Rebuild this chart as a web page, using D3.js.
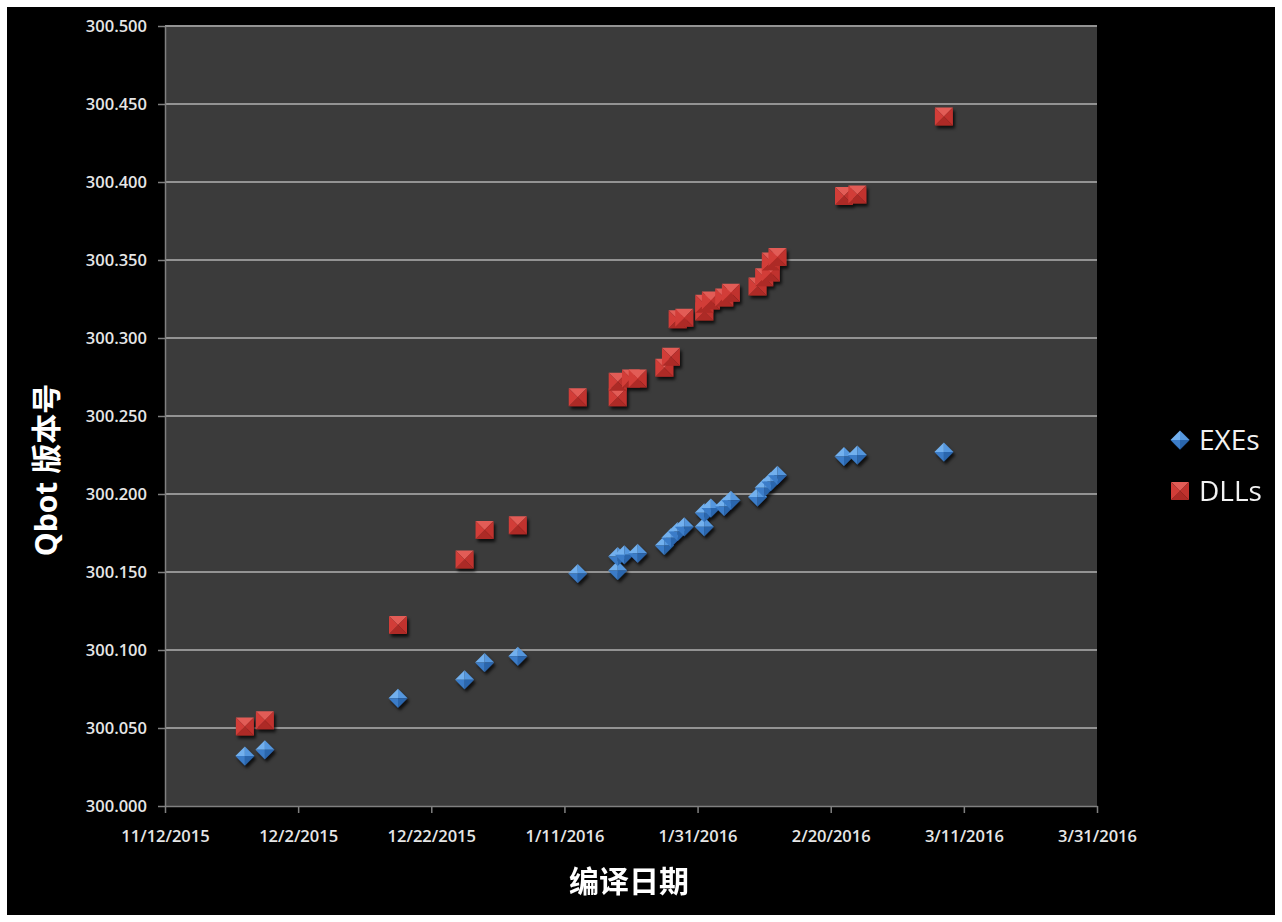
<!DOCTYPE html>
<html>
<head>
<meta charset="utf-8">
<script src="https://cdn.jsdelivr.net/npm/d3@7"></script>
<style>
  html, body { margin: 0; padding: 0; background: #ffffff; }
  svg { display: block; }
  .tick text { font-family: "Open Sans", "Noto Sans", sans-serif; font-weight: 600; font-size: 16.5px; fill: #e6e6e6; }
</style>
</head>
<body>
<svg id="chart" width="1282" height="922"></svg>
<script>
// Compile dates and Qbot version numbers for the two sample families
const exeDates = [
  "11/24/2015", "11/27/2015", "12/17/2015", "12/27/2015", "12/30/2015", "1/4/2016",
  "1/13/2016", "1/19/2016", "1/19/2016", "1/20/2016", "1/22/2016", "1/26/2016",
  "1/27/2016", "1/28/2016", "1/29/2016", "2/1/2016", "2/1/2016", "2/2/2016",
  "2/4/2016", "2/5/2016", "2/9/2016", "2/10/2016", "2/11/2016", "2/12/2016",
  "2/22/2016", "2/24/2016", "3/8/2016"
];
const exeVersions = [
  300.032, 300.036, 300.069, 300.081, 300.092, 300.096,
  300.149, 300.151, 300.160, 300.161, 300.162, 300.167,
  300.172, 300.176, 300.179, 300.179, 300.188, 300.191,
  300.192, 300.196, 300.198, 300.204, 300.208, 300.212,
  300.224, 300.225, 300.227
];
const dllDates = [
  "11/24/2015", "11/27/2015", "12/17/2015", "12/27/2015", "12/30/2015", "1/4/2016",
  "1/13/2016", "1/19/2016", "1/19/2016", "1/21/2016", "1/22/2016", "1/26/2016",
  "1/27/2016", "1/28/2016", "1/29/2016", "2/1/2016", "2/1/2016", "2/2/2016",
  "2/4/2016", "2/5/2016", "2/9/2016", "2/10/2016", "2/11/2016", "2/11/2016",
  "2/12/2016", "2/22/2016", "2/24/2016", "3/8/2016"
];
const dllVersions = [
  300.051, 300.055, 300.116, 300.158, 300.177, 300.180,
  300.262, 300.262, 300.272, 300.274, 300.274, 300.281,
  300.288, 300.312, 300.313, 300.317, 300.322, 300.324,
  300.326, 300.329, 300.333, 300.339, 300.342, 300.349,
  300.352, 300.391, 300.392, 300.442
];
const xTickLabels = ["11/12/2015", "12/2/2015", "12/22/2015", "1/11/2016", "1/31/2016", "2/20/2016", "3/11/2016", "3/31/2016"];
const yTickValues = [300.000, 300.050, 300.100, 300.150, 300.200, 300.250, 300.300, 300.350, 300.400, 300.450, 300.500];
const seriesNames = ["EXEs", "DLLs"];
const xTitle = "编译日期";
const yTitle = "Qbot 版本号";

const parse = d3.timeParse("%m/%d/%Y");
const fmtDate = d3.timeFormat("%-m/%-d/%Y");

const plotLeft = 165, plotRight = 1097, plotTop = 26, plotBottom = 806;

const svg = d3.select("#chart");

// dark page panel
svg.append("rect").attr("x", 7).attr("y", 7).attr("width", 1268).attr("height", 908).attr("fill", "#000");

const defs = svg.append("defs");
const f = defs.append("filter").attr("id", "shadow").attr("x", "-50%").attr("y", "-50%").attr("width", "200%").attr("height", "200%");
f.append("feDropShadow").attr("dx", 2).attr("dy", 3).attr("stdDeviation", 1.6).attr("flood-color", "#000").attr("flood-opacity", 0.75);

const xTickDates = xTickLabels.map(parse);
const x = d3.scaleTime().domain([xTickDates[0], xTickDates[xTickDates.length - 1]]).range([plotLeft, plotRight]);
const y = d3.scaleLinear().domain([300.0, 300.5]).range([plotBottom, plotTop]);

// plot area
svg.append("rect").attr("x", plotLeft).attr("y", plotTop).attr("width", plotRight - plotLeft).attr("height", plotBottom - plotTop).attr("fill", "#3b3b3b");

// horizontal gridlines
svg.append("g").selectAll("line").data(yTickValues.slice(1)).join("line")
  .attr("x1", plotLeft).attr("x2", plotRight)
  .attr("y1", d => y(d)).attr("y2", d => y(d))
  .attr("stroke", "#939393").attr("stroke-width", 2.2);

// axes
const yAxis = svg.append("g").attr("transform", `translate(${plotLeft},0)`)
  .call(d3.axisLeft(y).tickValues(yTickValues).tickFormat(d3.format(".3f")).tickSize(7).tickSizeOuter(0).tickPadding(11));
const xAxis = svg.append("g").attr("transform", `translate(0,${plotBottom})`)
  .call(d3.axisBottom(x).tickValues(xTickDates).tickFormat(fmtDate).tickSize(7).tickSizeOuter(0).tickPadding(17));
[yAxis, xAxis].forEach(a => {
  a.select(".domain").attr("stroke", "#808080").attr("stroke-width", 1.5);
  a.selectAll(".tick line").attr("stroke", "#808080").attr("stroke-width", 1.5);
});

// bevelled marker shapes
const D = 9.5; // diamond half-diagonal
const S = 9;   // square half-side
function diamondFaces(g) {
  const faces = [
    [[0, 0], [0, -D], [-D, 0], "#72b0ee"],
    [[0, 0], [0, -D], [D, 0], "#5597de"],
    [[0, 0], [D, 0], [0, D], "#2b66ad"],
    [[0, 0], [0, D], [-D, 0], "#3a7cc8"]
  ];
  faces.forEach(p => g.append("path").attr("d", `M${p[0]}L${p[1]}L${p[2]}Z`).attr("fill", p[3]));
}
function squareFaces(g) {
  const faces = [
    [[0, 0], [-S, -S], [S, -S], "#e25c57"],
    [[0, 0], [S, -S], [S, S], "#c0322e"],
    [[0, 0], [S, S], [-S, S], "#ad2a26"],
    [[0, 0], [-S, S], [-S, -S], "#d23d38"]
  ];
  faces.forEach(p => g.append("path").attr("d", `M${p[0]}L${p[1]}L${p[2]}Z`).attr("fill", p[3]));
}

function drawSeries(dates, values, faces) {
  const pts = dates.map((d, i) => ({ date: parse(d), v: values[i] }));
  svg.append("g").attr("filter", "url(#shadow)").selectAll("g").data(pts).join("g")
    .attr("transform", d => `translate(${x(d.date)},${y(d.v)})`)
    .each(function () { faces(d3.select(this)); });
}
drawSeries(exeDates, exeVersions, diamondFaces);
drawSeries(dllDates, dllVersions, squareFaces);

// legend
const legend = svg.append("g");
const lg = [[440, diamondFaces], [491, squareFaces]];
lg.forEach((l, i) => {
  legend.append("g").attr("transform", `translate(1180,${l[0]})`).attr("filter", "url(#shadow)").each(function () { l[1](d3.select(this)); });
  legend.append("text").attr("x", 1199).attr("y", l[0]).attr("dy", "0.36em")
    .attr("font-family", "'Open Sans', sans-serif").attr("font-size", 28).attr("fill", "#f2f2f2")
    .text(seriesNames[i]);
});

// axis titles
svg.append("text").attr("x", 629).attr("y", 881).attr("dy", "0.35em").attr("text-anchor", "middle")
  .attr("font-family", "'Noto Sans CJK SC', sans-serif").attr("font-weight", 700).attr("font-size", 30).attr("fill", "#fff")
  .text(xTitle);
svg.append("text").attr("transform", "translate(46,470) rotate(-90)").attr("dy", "0.35em").attr("text-anchor", "middle")
  .attr("font-family", "'Open Sans', 'Noto Sans CJK SC', sans-serif").attr("font-weight", 700).attr("font-size", 30).attr("fill", "#fff")
  .text(yTitle);
</script>
</body>
</html>
